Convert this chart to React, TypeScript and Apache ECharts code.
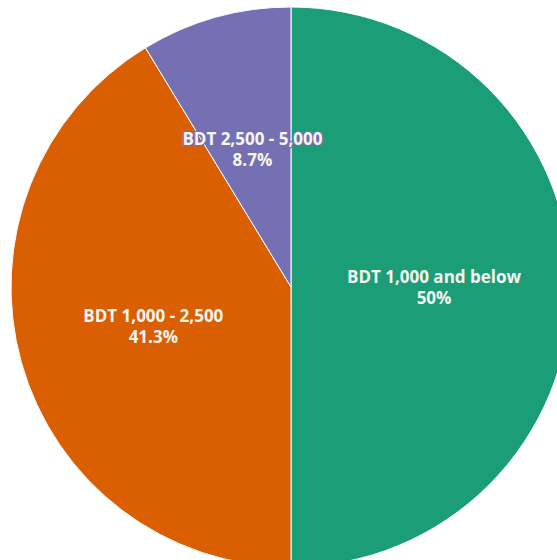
import React, { useEffect, useRef } from "react";
import * as echarts from "echarts";

const categories = ["BDT 1,000 and below", "BDT 1,000 - 2,500", "BDT 2,500 - 5,000"];
const values = [50, 41.3, 8.7];
const valueLabels = ["50%", "41.3%", "8.7%"];
const colors = ["#1b9e77", "#d95f02", "#7570b3"];

export default function App() {
  const ref = useRef<HTMLDivElement>(null);
  useEffect(() => {
    document.body.style.margin = "0";
    const chart = echarts.init(ref.current!, null, { renderer: "svg" });
    chart.setOption({
      animation: false,
      series: [
        {
          type: "pie",
          center: [291, 287],
          radius: 280,
          startAngle: 90,
          clockwise: true,
          avoidLabelOverlap: false,
          itemStyle: { borderColor: "#ffffff", borderWidth: 1 },
          label: {
            show: true,
            position: "inside",
            color: "#f7f5ef",
            fontFamily: "Open Sans",
            fontWeight: "bold",
            fontSize: 17,
            lineHeight: 21,
            textBorderWidth: 2.5,
            formatter: (p: any) => `${p.name}\n${valueLabels[p.dataIndex]}`,
          },
          labelLine: { show: false },
          emphasis: { disabled: true },
          data: categories.map((name, i) => ({
            name,
            value: values[i],
            itemStyle: { color: colors[i] },
            label: { textBorderColor: colors[i] },
          })),
        },
      ],
    });
    return () => chart.dispose();
  }, []);
  return <div ref={ref} style={{ position: "absolute", left: 0, top: 0, width: 557, height: 560 }} />;
}
